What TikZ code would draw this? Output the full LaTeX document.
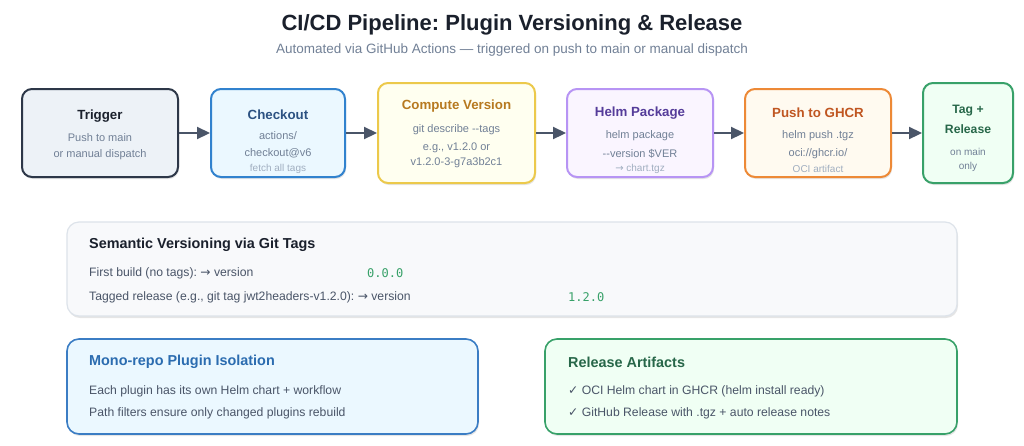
\documentclass[tikz,border=0pt]{standalone}
\usepackage{fontspec}
\setmainfont{Liberation Sans}[Ligatures=NoCommon]
\setmonofont{DejaVu Sans Mono}
\newfontfamily\symfont{DejaVu Sans}
\usetikzlibrary{arrows.meta,shadows}
\frenchspacing
\definecolor{ink}{HTML}{1A202C}
\definecolor{sub}{HTML}{718096}
\definecolor{faint}{HTML}{A0AEC0}
\definecolor{body}{HTML}{4A5568}
\definecolor{arrowc}{HTML}{4A5568}
\definecolor{trigB}{HTML}{2D3748}\definecolor{trigF}{HTML}{EDF2F7}
\definecolor{chkB}{HTML}{3182CE}\definecolor{chkF}{HTML}{EBF8FF}\definecolor{chkT}{HTML}{2C5282}
\definecolor{cmpB}{HTML}{ECC94B}\definecolor{cmpF}{HTML}{FFFFF0}\definecolor{cmpT}{HTML}{B7791F}
\definecolor{hlmB}{HTML}{B794F4}\definecolor{hlmF}{HTML}{FAF5FF}\definecolor{hlmT}{HTML}{553C9A}
\definecolor{ghcB}{HTML}{ED8936}\definecolor{ghcF}{HTML}{FFFAF0}\definecolor{ghcT}{HTML}{C05621}
\definecolor{tagB}{HTML}{38A169}\definecolor{tagF}{HTML}{F0FFF4}\definecolor{tagT}{HTML}{276749}
\definecolor{semB}{HTML}{DDE3EA}\definecolor{semF}{HTML}{F8F9FB}
\definecolor{monoB}{HTML}{3B7DC4}\definecolor{monoT}{HTML}{2B6CB0}
\definecolor{verc}{HTML}{38A169}
\tikzset{
  x=1pt, y=-1pt,
  softshadow/.style={drop shadow={opacity=0.10, shadow xshift=1pt, shadow yshift=-2pt, fill=black}},
  stagebox/.style={draw, line width=2pt, rounded corners=10pt, inner sep=0pt, softshadow},
  infobox/.style={draw, line width=1.6pt, rounded corners=12pt, inner sep=0pt, softshadow},
  ttl/.style={font=\bfseries\fontsize{13.3}{15}\selectfont, inner sep=0pt},
  dsc/.style={font=\fontsize{11}{13}\selectfont, text=sub, inner sep=0pt},
  small/.style={font=\fontsize{10}{12}\selectfont, text=faint, inner sep=0pt},
  hdr/.style={font=\bfseries\fontsize{14.4}{17}\selectfont, inner sep=0pt, anchor=west},
  line/.style={font=\fontsize{12.2}{14}\selectfont, text=body, inner sep=0pt, anchor=west},
  ver/.style={font=\ttfamily\fontsize{12}{14}\selectfont, text=verc, inner sep=0pt, anchor=west},
  arr/.style={draw=arrowc, line width=2.2pt, -{Triangle[length=13pt,width=12pt]}},
}
\begin{document}
\begin{tikzpicture}
\useasboundingbox[fill=white] (0,0) rectangle (1024,445);
% title
\node[font=\bfseries\fontsize{22}{26}\selectfont, text=ink, inner sep=0pt] (title) at (512,25) {CI/CD Pipeline: Plugin Versioning \& Release};
\node[font=\fontsize{13.5}{16}\selectfont, text=sub, inner sep=0pt] (subtitle) at (512,50) {Automated via GitHub Actions — triggered on push to main or manual dispatch};
% stages
\node[stagebox, draw=trigB, fill=trigF, minimum width=156pt, minimum height=88pt] (trig) at (100,133) {};
\node[ttl, text=ink] (trigT) at (100,116) {Trigger};
\node[dsc] (trigD1) at (100,138) {Push to main};
\node[dsc] (trigD2) at (100,155) {or manual dispatch};

\node[stagebox, draw=chkB, fill=chkF, minimum width=134pt, minimum height=88pt] (chk) at (278,133) {};
\node[ttl, text=chkT] (chkT) at (278,115) {Checkout};
\node[dsc] (chkD1) at (278,136) {actions/};
\node[dsc] (chkD2) at (278,153) {checkout@v6};
\node[small] (chkD3) at (278,169) {fetch all tags};

\node[stagebox, draw=cmpB, fill=cmpF, minimum width=157pt, minimum height=100pt] (cmp) at (456.5,133) {};
\node[ttl, text=cmpT] (cmpT) at (456.5,106) {Compute Version};
\node[dsc] (cmpD1) at (456.5,130) {git describe -{}-tags};
\node[dsc] (cmpD2) at (456.5,148) {e.g., v1.2.0 or};
\node[dsc] (cmpD3) at (456.5,163) {v1.2.0-3-g7a3b2c1};

\node[stagebox, draw=hlmB, fill=hlmF, minimum width=146pt, minimum height=88pt] (hlm) at (640,133) {};
\node[ttl, text=hlmT] (hlmT) at (640,113) {Helm Package};
\node[dsc] (hlmD1) at (640,136) {helm package};
\node[dsc] (hlmD2) at (640,154) {-{}-version \$VER};
\node[small] (hlmD3) at (640,169) {{\symfont →} chart.tgz};

\node[stagebox, draw=ghcB, fill=ghcF, minimum width=146pt, minimum height=88pt] (ghc) at (818,133) {};
\node[ttl, text=ghcT] (ghcT) at (818,113) {Push to GHCR};
\node[dsc] (ghcD1) at (818,136) {helm push .tgz};
\node[dsc] (ghcD2) at (818,154) {oci://ghcr.io/};
\node[small] (ghcD3) at (818,169) {OCI artifact};

\node[stagebox, draw=tagB, fill=tagF, minimum width=90pt, minimum height=100pt] (tag) at (968,133) {};
\node[ttl, text=tagT, font=\bfseries\fontsize{12.2}{14}\selectfont] (tagT1) at (968,111) {Tag +};
\node[ttl, text=tagT, font=\bfseries\fontsize{12.2}{14}\selectfont] (tagT2) at (968,129) {Release};
\node[small, text=sub] (tagD1) at (968,152) {on main};
\node[small, text=sub] (tagD2) at (968,167) {only};

\draw[arr] (trig) -- (chk);
\draw[arr] (chk) -- (cmp);
\draw[arr] (cmp) -- (hlm);
\draw[arr] (hlm) -- (ghc);
\draw[arr] (ghc) -- (tag);

% semantic versioning
\node[infobox, draw=semB, fill=semF, line width=1.2pt, minimum width=890pt, minimum height=94pt] (sem) at (512,269) {};
\node[hdr, text=ink] (semT) at (89,245) {Semantic Versioning via Git Tags};
\node[line] (semL1) at (89,273) {First build (no tags): {\symfont →} version};
\node[ver] (semV1) at (367,273) {0.0.0};
\node[line] (semL2) at (89,297) {Tagged release (e.g., git tag jwt2headers-v1.2.0): {\symfont →} version};
\node[ver] (semV2) at (568,297) {1.2.0};

% mono-repo
\node[infobox, draw=monoB, fill=chkF, minimum width=411pt, minimum height=95pt] (mono) at (272.5,386.5) {};
\node[hdr, text=monoT] (monoT) at (89,362) {Mono-repo Plugin Isolation};
\node[line] (monoL1) at (89,391) {Each plugin has its own Helm chart + workflow};
\node[line] (monoL2) at (89,413) {Path filters ensure only changed plugins rebuild};

% release artifacts
\node[infobox, draw=tagB, fill=tagF, minimum width=412pt, minimum height=95pt] (rel) at (751,386.5) {};
\node[hdr, text=tagT] (relT) at (568,362) {Release Artifacts};
\node[line] (relL1) at (568,391) {{\symfont ✓} OCI Helm chart in GHCR (helm install ready)};
\node[line] (relL2) at (568,413) {{\symfont ✓} GitHub Release with .tgz + auto release notes};
\end{tikzpicture}
\end{document}
